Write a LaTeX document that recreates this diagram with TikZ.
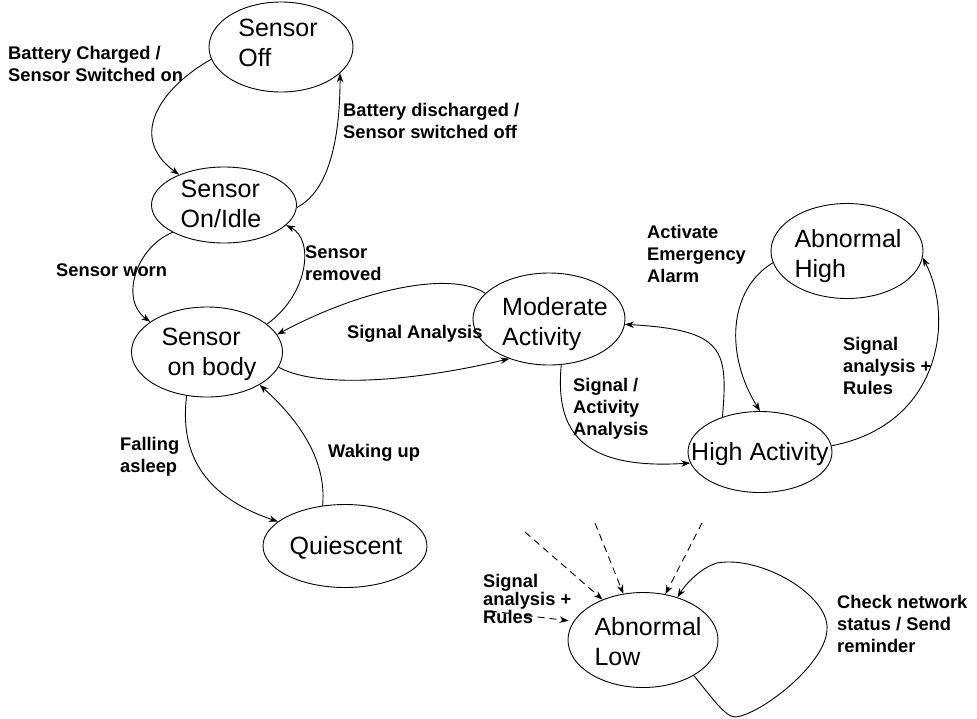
\documentclass[tikz,border=0pt]{standalone}
\usepackage{fontspec}
\setmainfont{Liberation Sans}
\usetikzlibrary{shapes.geometric,arrows.meta}

\tikzset{
  state/.style={ellipse, draw, line width=0.9pt, inner sep=0pt},
  stxt/.style={font=\fontsize{25}{30}\selectfont, align=left, inner sep=0pt},
  lbl/.style={font=\bfseries\fontsize{18.3}{22}\selectfont, align=left, inner sep=0pt, anchor=west},
  tr/.style={draw, line width=0.9pt, -{Stealth[length=9pt,width=6.5pt]}},
  trd/.style={tr, dash pattern=on 7pt off 5pt},
}

\begin{document}
\begin{tikzpicture}[x=1pt, y=-1pt]
\useasboundingbox (0,0) rectangle (977,718);

% states
\node[state, minimum width=144pt, minimum height=90pt] (off)  at (281,47)  {};
\node[state, minimum width=145pt, minimum height=76pt] (idle) at (224,205) {};
\node[state, minimum width=151pt, minimum height=90pt] (body) at (207,352) {};
\node[state, minimum width=164pt, minimum height=83pt] (quie) at (345,546) {};
\node[state, minimum width=152pt, minimum height=92pt] (mod)  at (549,319) {};
\node[state, minimum width=144pt, minimum height=81pt] (ha)   at (760,452) {};
\node[state, minimum width=152pt, minimum height=95pt] (ah)   at (847,251) {};
\node[state, minimum width=150pt, minimum height=95pt] (al)   at (643,640) {};

% state names
\node[stxt] (off-t)  at (278,43)  {Sensor\\Off};
\node[stxt] (idle-t) at (221,204) {Sensor\\On/Idle};
\node[stxt] (body-t) at (209,354) {Sensor\\\hspace*{6pt}on body};
\node[stxt] (quie-t) at (346,548) {Quiescent};
\node[stxt] (mod-t)  at (555,324) {Moderate\\Activity};
\node[stxt] (ha-t)   at (760,454) {High Activity};
\node[stxt] (ah-t)   at (848,256) {Abnormal\\High};
\node[stxt] (al-t)   at (648,642) {Abnormal\\Low};

% transition labels
\node[lbl] (l-bc)  at (8,64)    {Battery Charged /\\Sensor Switched on};
\node[lbl] (l-bd)  at (343,121) {Battery discharged /\\Sensor switched off};
\node[lbl] (l-sw)  at (56,270)  {Sensor worn};
\node[lbl] (l-sr)  at (305,263) {Sensor\\removed};
\node[lbl] (l-sa)  at (347,334) {Signal Analysis};
\node[lbl] (l-fa)  at (120,457) {Falling\\asleep};
\node[lbl] (l-wu)  at (328,453) {Waking up};
\node[lbl] (l-saa) at (573,409) {Signal /\\Activity\\Analysis};
\node[lbl] (l-aea) at (647,254) {Activate\\Emergency\\Alarm};
\node[lbl] (l-sar) at (843,366) {Signal\\analysis +\\Rules};
\node[lbl, font=\bfseries\fontsize{18.3}{17}\selectfont] (l-sar2) at (483,599) {Signal\\analysis +\\Rules};
\node[lbl] (l-cn)  at (837,624) {Check network\\status / Send\\reminder};

% transitions
\draw[tr] (off.190)  .. controls (165,85)  and (125,135) .. (idle.146);
\draw[tr] (idle.-2)  .. controls (335,188) and (340,120) .. (off.336);
\draw[tr] (idle.208) .. controls (135,248) and (120,300) .. (body.152);
\draw[tr] (body.25)  .. controls (308,295) and (315,240) .. (idle.342);
\draw[tr] (mod.158)  .. controls (450,270) and (360,290) .. (body.14);
\draw[tr] (body.348) .. controls (320,390) and (420,380) .. (mod.225);
\draw[tr] (body.245) .. controls (180,450) and (200,495) .. (quie.160);
\draw[tr] (quie.119) .. controls (326,470) and (310,430) .. (body.328);
\draw[tr] (mod.285)  .. controls (555,430) and (580,470) .. (ha.189);
\draw[tr] (ha.137)   .. controls (728,350) and (725,330) .. (mod.356);
\draw[tr] (ah.189)   .. controls (728,290) and (725,355) .. (ha.90);
\draw[tr] (ha.5)     .. controls (940,425) and (955,320) .. (ah.355);

% self loop on Abnormal Low
\draw[tr] (al.325) .. controls (710,695) and (725,717) .. (735,717)
                   .. controls (760,715) and (825,665) .. (827,630)
                   .. controls (830,595) and (760,555) .. (717,563)
                   .. controls (700,568) and (685,585) .. (al.51);

% dashed entries into Abnormal Low
\coordinate (da) at (525,532);
\coordinate (db) at (595,523);
\coordinate (dc) at (702,523);
\coordinate (dd) at (490,611);
\draw[trd] (da) -- (al.135);
\draw[trd] (db) -- (al.113);
\draw[trd] (dc) -- (al.64);
\draw[trd, shorten >=5pt] (dd) -- (al.165);
\end{tikzpicture}
\end{document}
